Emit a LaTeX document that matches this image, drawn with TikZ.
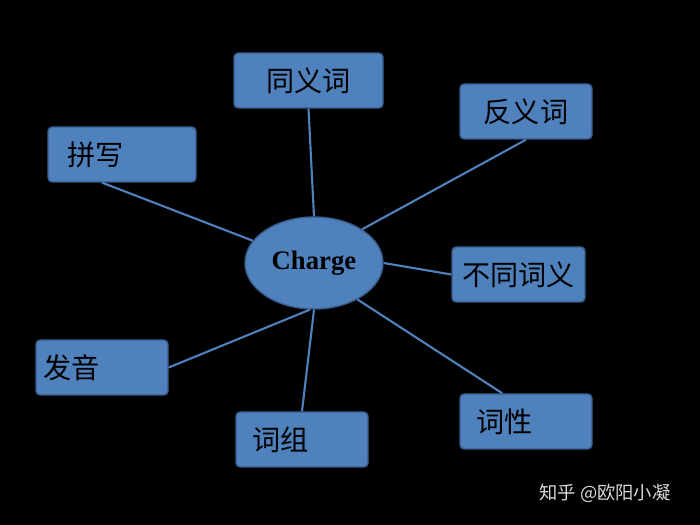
\documentclass[tikz,border=0pt]{standalone}
\usepackage{fontspec}
\setmainfont{Liberation Serif}
\newfontfamily\cjk{Noto Sans CJK SC}
\usetikzlibrary{shapes.geometric}
\definecolor{boxblue}{HTML}{4F81BD}
\definecolor{boxedge}{HTML}{385D8A}
\tikzset{
  word/.style={draw=boxedge, fill=boxblue, line width=1pt, rounded corners=3pt,
    minimum width=132*0.025cm, minimum height=55*0.025cm, font=\cjk\fontsize{20}{20}\selectfont, text=black},
  link/.style={draw=boxblue, line width=1.5pt}
}
\begin{document}
\begin{tikzpicture}[x=0.025cm, y=-0.025cm]
    % 背景
    \fill[black] (0,0) rectangle (700,525);
    \useasboundingbox (0,0) rectangle (700,525);

    % 中心
    \node[ellipse, draw=boxedge, fill=boxblue, line width=1pt, minimum width=138*0.025cm,
      minimum height=92*0.025cm, font=\bfseries\fontsize{19}{19}\selectfont] (hub) at (314,263) {Charge};

    % 周りの語
    \node[word, minimum width=149*0.025cm] (syn) at (308.5,80.5) {同义词};
    \node[word] (ant) at (526,111.5) {反义词};
    \node[word, minimum width=148*0.025cm, text width=110*0.025cm, align=left] (spell) at (122,154.5) {拼写};
    \node[word, minimum width=133*0.025cm, inner sep=1pt] (sense) at (518.5,274.5) {不同词义};
    \node[word, text width=118*0.025cm, align=left] (pron) at (102,367.5) {发音};
    \node[word, text width=100*0.025cm, align=left] (phr) at (302,439.5) {词组};
    \node[word, text width=100*0.025cm, align=left] (pos) at (526,421.5) {词性};

    % 線
    \draw[link] (hub.north) -- (syn.south);
    \draw[link] (hub.35) -- (ant.south);
    \draw[link] (hub.160) -- (spell.-125);
    \draw[link] (hub.east) -- (sense.west);
    \draw[link] (hub.-95) -- (pron.east);
    \draw[link] (hub.south) -- (phr.north);
    \draw[link] (hub.-40) -- (pos.130);

    % 透かし
    \node[text=white!85!black, font=\cjk\fontsize{13}{13}\selectfont] (mark) at (605,493) {知乎 @欧阳小凝};
\end{tikzpicture}
\end{document}
